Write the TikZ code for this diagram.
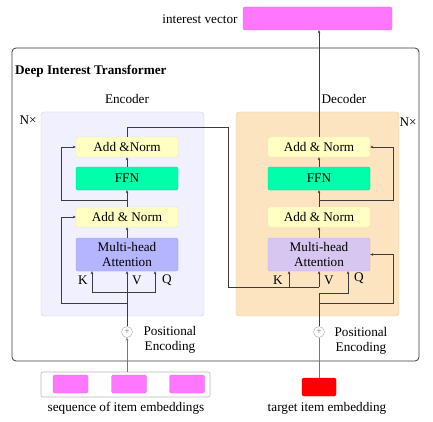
\documentclass[tikz,border=0pt]{standalone}
\usepackage{fontspec}
\setmainfont{Liberation Serif}
\usetikzlibrary{arrows.meta}
\definecolor{anfill}{RGB}{255,255,196}
\definecolor{andraw}{RGB}{232,232,170}
\definecolor{ffnfill}{RGB}{0,255,170}
\definecolor{ffndraw}{RGB}{0,215,145}
\definecolor{eattfill}{RGB}{180,180,255}
\definecolor{eattdraw}{RGB}{160,160,235}
\definecolor{dattfill}{RGB}{215,198,240}
\definecolor{dattdraw}{RGB}{195,178,225}
\definecolor{encfill}{RGB}{240,240,255}
\definecolor{encdraw}{RGB}{205,205,222}
\definecolor{decfill}{RGB}{253,228,192}
\definecolor{decdraw}{RGB}{232,205,165}
\definecolor{pinkfill}{RGB}{255,119,255}
\definecolor{linecol}{RGB}{60,60,60}
\definecolor{greyline}{RGB}{120,120,120}
\tikzset{
  blk/.style={rectangle, rounded corners=2pt, minimum width=102pt, inner sep=0pt, align=center},
  anbox/.style={blk, fill=anfill, draw=andraw, minimum height=20pt},
  ffnbox/.style={blk, fill=ffnfill, draw=ffndraw, minimum height=23pt},
  eattbox/.style={blk, fill=eattfill, draw=eattdraw, minimum height=33pt},
  dattbox/.style={blk, fill=dattfill, draw=dattdraw, minimum height=33pt},
  conn/.style={draw=linecol, line width=0.6pt},
  arr/.style={conn, -{Stealth[length=3pt,width=2.6pt]}},
  gconn/.style={draw=greyline, line width=0.6pt},
  garr/.style={gconn, -{Stealth[length=3pt,width=2.6pt]}},
  plusnode/.style={circle, draw=gray!70, fill=white, minimum size=11pt, inner sep=0pt, font=\fontsize{9.5}{9.5}\selectfont\color{gray!90!black}},
  pinkbox/.style={rectangle, rounded corners=1.5pt, fill=pinkfill, draw=pinkfill!90!black, minimum width=35pt, minimum height=18pt, inner sep=0pt},
  lbl/.style={inner sep=0pt, align=center}
}
\begin{document}
\begin{tikzpicture}[x=1pt,y=-1pt, font=\fontsize{13.2}{15.5}\selectfont]
\useasboundingbox (0,0) rectangle (433,422);
% interest vector
\node[rectangle, rounded corners=2pt, fill=pinkfill, draw=pinkfill!90!black, minimum width=149pt, minimum height=23pt, inner sep=0pt] (iv) at (317.5,18.5) {};
\node[lbl] (ivl) at (200,19) {interest vector};
% outer frame
\draw[draw=linecol, line width=0.8pt, rounded corners=4pt] (12,48) rectangle (419,361);
\node[lbl, anchor=west, font=\fontsize{13.2}{15}\selectfont\bfseries] (title) at (15,71) {Deep Interest Transformer};
% containers
\draw[fill=encfill, draw=encdraw, rounded corners=3pt] (41,112) rectangle (204,316);
\draw[fill=decfill, draw=decdraw, rounded corners=3pt] (236,112) rectangle (399,316);
\node[lbl] (encl) at (127,99) {Encoder};
\node[lbl] (decl) at (344,99) {Decoder};
\node[lbl] (en) at (28,120) {N\texttimes};
\node[lbl] (dn) at (408,122) {N\texttimes};
% encoder blocks
\node[anbox] (ean1) at (127,147) {Add \&Norm};
\node[ffnbox] (effn) at (127,178.5) {FFN};
\node[anbox] (ean2) at (127,217) {Add \& Norm};
\node[eattbox] (eatt) at (127,254.5) {Multi-head\\Attention};
% decoder blocks
\node[anbox] (dan1) at (319,147) {Add \& Norm};
\node[ffnbox] (dffn) at (319,178.5) {FFN};
\node[anbox] (dan2) at (319,217) {Add \& Norm};
\node[dattbox] (datt) at (319,254.5) {Multi-head\\Attention};
% K V Q labels
\node[lbl] (ek) at (83,280) {K};
\node[lbl] (ev) at (137,280) {V};
\node[lbl] (eq) at (167,280) {Q};
\node[lbl] (dk) at (278,280) {K};
\node[lbl] (dv) at (329,280) {V};
\node[lbl] (dq) at (359,278) {Q};
% plus nodes
\node[plusnode] (eplus) at (127,332) {+};
\node[plusnode] (dplus) at (319,332) {+};
\node[lbl] (epe) at (170,340) {Positional\\Encoding};
\node[lbl] (dpe) at (361,341) {Positional\\Encoding};
% inputs
\node[rectangle, rounded corners=2pt, draw=gray!55, line width=0.6pt, fill=white, minimum width=169pt, minimum height=25pt, inner sep=0pt] (seq) at (125.5,384.5) {};
\node[pinkbox] (s1) at (70.5,384) {};
\node[pinkbox] (s2) at (129,384) {};
\node[pinkbox] (s3) at (187,384) {};
\node[lbl] (seql) at (126,408) {sequence of item embeddings};
\node[rectangle, rounded corners=1.5pt, fill=red, draw=red!90!black, minimum width=34pt, minimum height=18pt, inner sep=0pt] (tgt) at (319,387) {};
\node[lbl] (tgtl) at (327,408) {target item embedding};
% encoder connections
\draw[garr] (eplus.south |- seq.north) -- (eplus.south);
\draw[arr] (eplus.north) -- (eatt.south);
\coordinate (ekq) at (127,292);
\draw[arr] (ekq) -- ++(-35,0) -- ([xshift=-35pt]eatt.south);
\draw[arr] (ekq) -- ++(28,0) -- ([xshift=28pt]eatt.south);
\coordinate (er1) at (127,303);
\draw[arr] (er1) -- ++(-66,0) |- (ean2.west);
\draw[arr] (eatt.north) -- (ean2.south);
\draw[arr] (ean2.north) -- (effn.south);
\draw[arr] (effn.north) -- (ean1.south);
\coordinate (er2) at (127,200);
\draw[arr] (er2) -- ++(-66,0) |- (ean1.west);
% encoder output into decoder
\coordinate (ctop) at (127,127);
\coordinate (cturn) at (228,127);
\coordinate (dkv) at (319,287);
\draw[conn] (ean1.north) -- (ctop) -- (cturn) |- (dkv);
\draw[arr] (dkv) -- (datt.south);
\draw[arr] ([xshift=-30pt]dkv) -- ([xshift=-30pt]datt.south);
% decoder query path
\draw[gconn] (tgt.north) -- (dplus.south);
\coordinate (dqc) at (319,293);
\draw[conn] (dplus.north) -- (dqc);
\draw[arr] (dqc) -- ++(29,0) -- ([xshift=29pt]datt.south);
\coordinate (dr1) at (319,303);
\draw[arr] (dr1) -- ++(74,0) |- (datt.east);
\draw[arr] (datt.north) -- (dan2.south);
\draw[arr] (dan2.north) -- (dffn.south);
\draw[arr] (dffn.north) -- (dan1.south);
\coordinate (dr2) at (319,200);
\draw[arr] (dr2) -- ++(74,0) |- (dan1.east);
\draw[arr] (dan1.north) -- (dan1.north |- iv.south);
\end{tikzpicture}
\end{document}
